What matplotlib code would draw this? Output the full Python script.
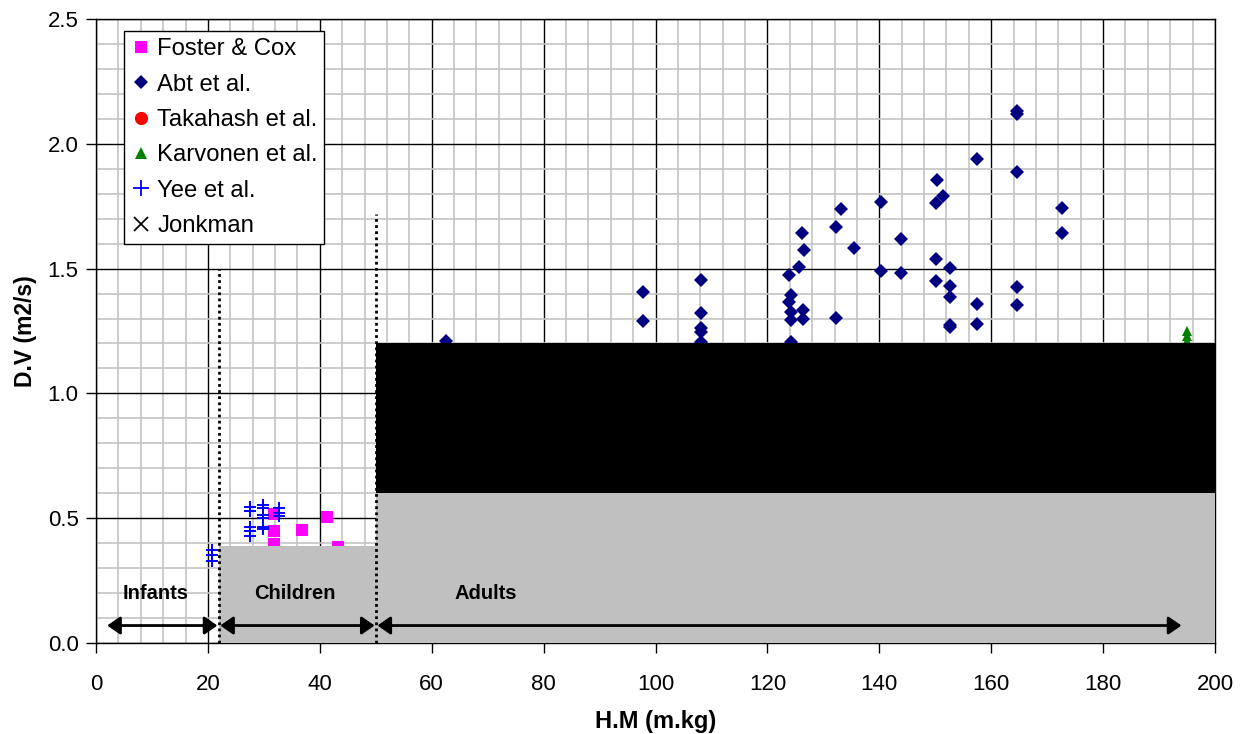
import matplotlib
matplotlib.use("Agg")
import matplotlib.pyplot as plt
from matplotlib.patches import Rectangle
from matplotlib.lines import Line2D
from matplotlib.ticker import MultipleLocator

plt.rcParams['font.family'] = ['Liberation Sans', 'DejaVu Sans']

# data
foster_x = [31.8, 31.8, 36.8, 41.2, 31.8, 43.3]
foster_y = [0.517, 0.450, 0.453, 0.506, 0.395, 0.385]

abt_x = [62.5, 97.8, 97.8, 108.1, 108.1, 108.1, 108.1, 108.1,
         123.9, 124.2, 123.9, 124.2, 124.2, 124.2, 125.7, 126.1, 126.5, 126.4, 126.4,
         132.2, 132.2, 133.2, 135.5, 140.3, 140.3, 143.9, 143.9,
         150.1, 150.4, 151.4, 150.1, 150.1, 152.7, 152.7, 152.7, 152.7, 152.7,
         157.5, 157.5, 157.5, 164.7, 164.7, 164.7, 164.7, 164.7, 172.7, 172.7]
abt_y = [1.21, 1.405, 1.29, 1.454, 1.321, 1.261, 1.247, 1.207,
         1.474, 1.394, 1.367, 1.325, 1.294, 1.207, 1.508, 1.641, 1.575, 1.334, 1.299,
         1.667, 1.301, 1.739, 1.584, 1.766, 1.490, 1.617, 1.481,
         1.764, 1.855, 1.791, 1.537, 1.452, 1.501, 1.432, 1.386, 1.274, 1.265,
         1.939, 1.359, 1.279, 2.13, 2.12, 1.886, 1.428, 1.353, 1.744, 1.644]

takahash_x = []
takahash_y = []

karvonen_x = [195, 195, 195]
karvonen_y = [1.25, 1.23, 1.21]

yee_x = [20.8, 20.8, 20.8,
         27.6, 27.6, 27.6, 27.6, 27.6,
         29.9, 29.9, 29.9, 29.9, 29.9, 29.9,
         32.7, 32.7, 32.7]
yee_y = [0.373, 0.353, 0.330,
         0.544, 0.530, 0.466, 0.450, 0.430,
         0.553, 0.540, 0.513, 0.500, 0.466, 0.456,
         0.540, 0.520, 0.509]

jonkman_x = []
jonkman_y = []

# age groups: arrow start/end and label position
group_names = ["Infants", "Children", "Adults"]
group_arrows = [(2, 21.7), (22.2, 49.8), (50.3, 194)]
group_label_x = [10.7, 35.6, 69.7]

fig = plt.figure(figsize=(12.46, 7.34), dpi=100)
ax = fig.add_axes([96 / 1246, 91 / 734, 1119 / 1246, 624 / 734])

ax.set_xlim(0, 200)
ax.set_ylim(0, 2.5)
ax.xaxis.set_major_locator(MultipleLocator(20))
ax.xaxis.set_minor_locator(MultipleLocator(4))
ax.yaxis.set_major_locator(MultipleLocator(0.5))
ax.yaxis.set_minor_locator(MultipleLocator(0.1))
ax.yaxis.set_major_formatter(matplotlib.ticker.FormatStrFormatter('%.1f'))
ax.set_axisbelow(True)
ax.grid(which='minor', color='#c4c4c4', lw=1.2, zorder=0)
ax.grid(which='major', color='black', lw=1.0, zorder=0.5)
ax.tick_params(which='minor', length=0)
ax.tick_params(which='major', length=7, width=1, labelsize=16, color='black')
ax.tick_params(axis='x', pad=15)
ax.tick_params(axis='y', pad=5.5)
for s in ax.spines.values():
    s.set_color('black')
    s.set_linewidth(1)

# scatter series
ax.plot(foster_x, foster_y, 's', color='#ff00ff', ms=8.5, mew=0, zorder=3)
ax.plot(abt_x, abt_y, 'D', color='#000080', ms=7.2, mew=0, zorder=3)
ax.plot(takahash_x, takahash_y, 'o', color='red', ms=7, zorder=3)
ax.plot(karvonen_x, karvonen_y, '^', color='green', ms=7, mew=0, zorder=3)
ax.plot(yee_x, yee_y, '+', color='#0000ff', ms=9, mew=1.4, zorder=3)
ax.plot(jonkman_x, jonkman_y, 'x', color='black', ms=7, zorder=3)

# shaded zones
ax.add_patch(Rectangle((22, 0), 28, 0.39, facecolor='#c0c0c0', edgecolor='none', zorder=4))
ax.add_patch(Rectangle((50, 0), 150, 0.6, facecolor='#c0c0c0', edgecolor='none', zorder=4))
ax.add_patch(Rectangle((50, 0.6), 150, 0.6, facecolor='black', edgecolor='none', zorder=4))

ax.plot([22, 22], [0, 1.5], color='black', lw=2, ls=(0, (1, 1.2)), zorder=5)
ax.plot([50, 50], [0, 1.72], color='black', lw=2, ls=(0, (1, 1.2)), zorder=5)

for name, (x0, x1), lx in zip(group_names, group_arrows, group_label_x):
    ax.annotate('', xy=(x1, 0.07), xytext=(x0, 0.07),
                arrowprops=dict(arrowstyle='<|-|>,head_length=0.65,head_width=0.45',
                                color='black', lw=2, mutation_scale=12,
                                shrinkA=0, shrinkB=0), zorder=6)
    ax.text(lx, 0.2, name, ha='center', va='center', fontsize=14.5,
            fontweight='bold', zorder=6)

ax.set_xlabel("H.M (m.kg)", fontsize=17, fontweight='bold', labelpad=11)
ax.set_ylabel("D.V (m2/s)", fontsize=16.5, fontweight='bold', labelpad=8)

handles = [
    Line2D([], [], ls='none', marker='s', color='#ff00ff', ms=8.5, mew=0),
    Line2D([], [], ls='none', marker='D', color='#000080', ms=7, mew=0),
    Line2D([], [], ls='none', marker='o', color='red', ms=9.5, mew=0),
    Line2D([], [], ls='none', marker='^', color='green', ms=9, mew=0),
    Line2D([], [], ls='none', marker='+', color='#0000ff', ms=12, mew=1.3),
    Line2D([], [], ls='none', marker='x', color='black', ms=10, mew=1.3),
]
labels = ["Foster & Cox", "Abt et al.", "Takahash et al.", "Karvonen et al.",
          "Yee et al.", "Jonkman"]
leg = ax.legend(handles, labels, loc='upper left', bbox_to_anchor=(0.0253, 0.980),
                fontsize=17.2, frameon=True, fancybox=False, framealpha=1,
                edgecolor='black', borderpad=0.28, labelspacing=0.56,
                handlelength=0.8, handletextpad=0.3, borderaxespad=0)
leg.get_frame().set_linewidth(1)
leg.set_zorder(10)

fig.savefig('out.png', dpi=100)
plt.close(fig)
